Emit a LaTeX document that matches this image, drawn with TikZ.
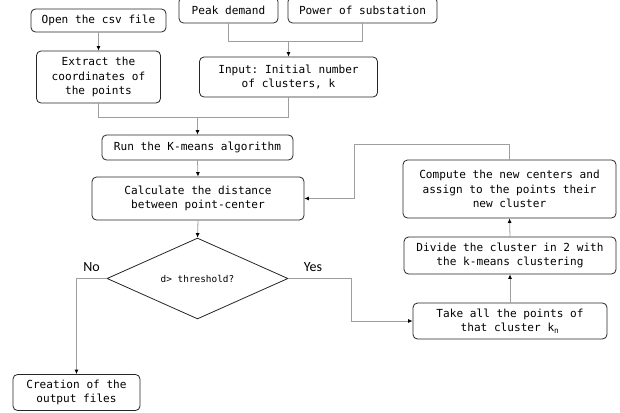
\documentclass[tikz,border=0pt]{standalone}
\usepackage{fontspec}
\setmonofont{DejaVu Sans Mono}
\newfontfamily\labelfont{Carlito}
\usetikzlibrary{shapes.geometric,arrows.meta}

\begin{document}
\begin{tikzpicture}[x=1pt,y=-1pt,
  box/.style={draw=black!85, rounded corners=4.5pt, line width=0.8pt, inner sep=0pt,
    align=center, font=\ttfamily\fontsize{11.1}{14.5}\selectfont},
  decision/.style={draw=black!85, diamond, line width=0.8pt, inner sep=0pt,
    font=\ttfamily\fontsize{9.4}{12}\selectfont},
  link/.style={draw=black!38, line width=0.8pt},
  arr/.style={link, -{Latex[length=4.5pt,width=4pt,color=black]}},
  branch/.style={font=\labelfont\fontsize{14}{16}\selectfont}]

\useasboundingbox[fill=white] (0,0) rectangle (620,412);

% input side
\node[box, minimum width=135, minimum height=23] (open) at (98.5,20.5) {Open the csv file};
\node[box, minimum width=99, minimum height=26] (peak) at (228.5,10) {Peak demand};
\node[box, minimum width=149, minimum height=26] (power) at (362.5,10) {Power of substation};
\node[box, minimum width=124, minimum height=52] (extract) at (98.5,77) {Extract the\\coordinates of\\the points};
\node[box, minimum width=178, minimum height=40] (input) at (288.5,77) {Input: Initial number\\of clusters, k};

% main flow
\node[box, minimum width=191, minimum height=25] (run) at (197.5,147.5) {Run the K-means algorithm};
\node[box, minimum width=212, minimum height=43] (calc) at (198,198.5) {Calculate the distance\\between point-center};
\node[decision, minimum width=181, minimum height=71] (dec) at (197.5,278.5) {d> threshold?};
\node[box, minimum width=127, minimum height=36] (create) at (76.5,392.5) {Creation of the\\output files};

% splitting loop
\node[box, minimum width=194, minimum height=36] (take) at (510,321) {Take all the points of\\that cluster k\textsubscript{n}};
\node[box, minimum width=212, minimum height=37] (divide) at (510,255.5) {Divide the cluster in 2 with\\the k-means clustering};
\node[box, minimum width=213, minimum height=58] (compute) at (509.5,189) {Compute the new centers and\\assign to the points their\\new cluster};

% junctions
\coordinate (j1) at (288.5,41);
\coordinate (j2) at (197.5,117);
\coordinate (yesturn) at (351,278.5);
\coordinate (loop) at (354,144);

\draw[link] (peak.south) |- (j1);
\draw[link] (power.south) |- (j1);
\draw[arr] (j1) -- (input.north);
\draw[arr] (open.south) -- (extract.north);
\draw[link] (extract.south) |- (j2);
\draw[link] (input.south) |- (j2);
\draw[arr] (j2) -- (run.north);
\draw[arr] (run.south) -- (calc.north);
\draw[arr] (calc.south) -- (dec.north);
\draw[arr] (dec.west) -| (create.north);
\draw[arr] (dec.east) -- (yesturn) |- (take.west);
\draw[arr] (take.north) -- (divide.south);
\draw[arr] (divide.north) -- (compute.south);
\draw[arr] (compute.north) |- (loop) |- (calc.east);

\node[branch] (no) at (91.5,267) {No};
\node[branch] (yes) at (313,267) {Yes};
\end{tikzpicture}
\end{document}
